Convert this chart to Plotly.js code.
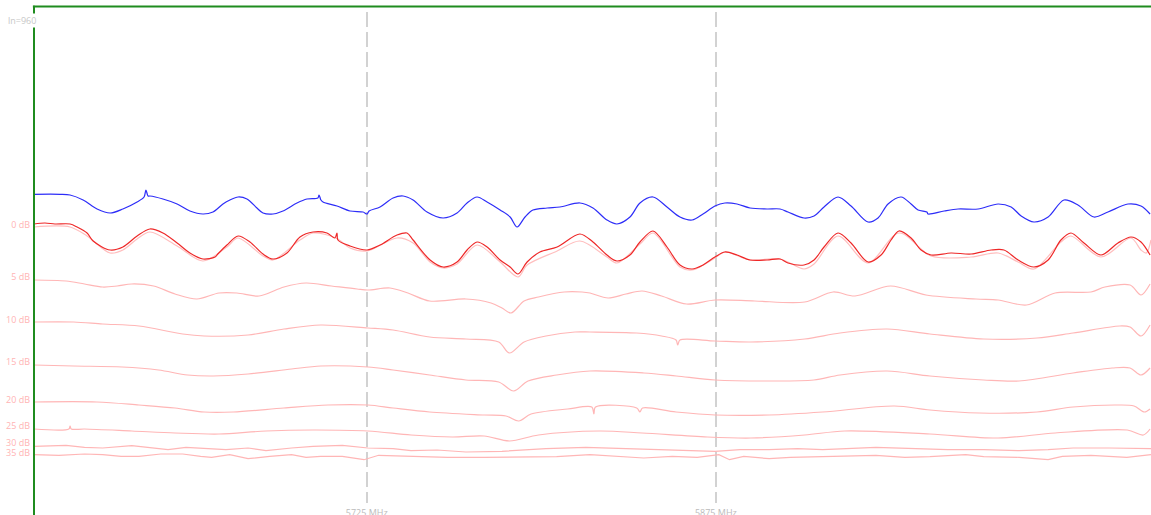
<!DOCTYPE html>
<html><head><meta charset="utf-8">
<script src="https://cdn.plot.ly/plotly-3.0.1.min.js"></script>
<style>html,body{margin:0;padding:0;background:#fff;overflow:hidden}#chart{width:1151px;height:515px}</style>
</head><body><div id="chart"></div>
<script>
// Frequency in MHz, level in display units (rows below the 0 dB reference start)
const freqBlue = [5582,5593.2,5597.5,5603.1,5609.1,5614.7,5620.2,5626.3,5629.3,5630.1,5631,5631.8,5637.4,5643.5,5649,5654.6,5658.9,5663.2,5666.2,5669.7,5673.5,5677.8,5680.4,5684.7,5689,5695,5699.3,5704,5704.5,5705.3,5706.2,5712.2,5717.8,5723.4,5725.1,5726,5730.7,5736.3,5740.6,5744.9,5750.9,5757.8,5763.8,5768.1,5772.4,5776.7,5782.3,5786.6,5789.6,5793,5796.4,5802.5,5808,5816.6,5822.2,5828.2,5832.5,5838.1,5842.4,5848,5854,5859.6,5864.8,5869.5,5874.6,5878.9,5884.1,5889.7,5897,5902.6,5906,5912.9,5917.2,5921.5,5927.5,5933.1,5940.4,5944.7,5949,5954.6,5958.9,5961.9,5965.7,5966.2,5973.1,5979.1,5987.7,5996.3,6001.9,6006.2,6011.7,6017.8,6024.6,6030.6,6037.5,6043.5,6052.1,6057.7,6061.6];
const levelBlue = [-29.7,-29.7,-29,-24,-15,-11,-15,-22,-27,-34,-28,-28,-25,-20,-13,-10,-12,-20,-24,-27,-25,-16,-11,-10,-13,-21,-25,-26,-29,-24,-22,-18,-13,-12,-10,-13,-17,-26,-28,-24,-12,-6,-11,-21,-27,-22,-14,-7,3,-7,-14,-16,-17,-21,-16,-4,0,-7,-21,-27,-17,-7,-4,-10,-18,-21,-20,-16,-15,-15,-12,-6,-8,-17,-27,-18,-2,-6,-20,-27,-20,-14,-12,-10,-13,-15,-15,-20,-17,-8,-2,-7,-24,-19,-7,-12,-20,-18,-10];

const freqRed = [5582,5586.7,5591,5597.5,5600.5,5604.8,5607.4,5614.7,5620.2,5626.3,5631.8,5637.4,5643.5,5649,5654.6,5659.8,5661,5664.9,5669.7,5674.8,5680.4,5684.7,5690.7,5696.3,5701.9,5707.9,5711.3,5712.2,5712.6,5717.8,5725.1,5730.7,5738,5742.3,5744.9,5752.2,5757.8,5763.8,5768.1,5772.4,5776.7,5782.3,5786.6,5790,5793.9,5799.4,5806.8,5816.6,5822.2,5828.2,5832.5,5838.1,5842.4,5848,5854,5859.6,5864.8,5869.5,5874.6,5878.9,5884.1,5889.7,5897,5902.6,5906,5912.9,5917.2,5921.5,5927.5,5933.1,5940.4,5946,5950.3,5953.7,5958.9,5963.2,5967.5,5976.1,5984.7,5993.3,5998.8,6004.9,6011.7,6017.8,6023.3,6027.6,6033.2,6040.5,6047.8,6053.4,6057.7,6061.6];
const levelRed = [0,-1,0,0,3,9,17,26,23,12,5,9,19,29,35,33,30,21,12,18,30,35,29,13,8,9,14,9,16,22,26,21,11,9,16,36,43,38,26,18,23,36,43,50,38,28,23,10,18,31,37,31,18,7,23,41,45,41,33,28,31,36,36,35,39,41,36,23,9,19,38,31,16,7,14,26,31,29,30,26,26,36,43,36,16,9,19,31,19,13,18,31];

const freqPink = [5582,5597.5,5604.8,5614.7,5620.2,5626.3,5631.8,5643.5,5654.6,5664.9,5669.7,5680.4,5684.7,5696.3,5701.9,5711.8,5717.8,5725.1,5738,5744.9,5752.2,5757.8,5763.8,5772.4,5782.3,5790,5793.9,5806.8,5816.6,5828.2,5832.5,5842.4,5848,5859.6,5864.8,5874.6,5878.9,5889.7,5902.6,5912.9,5917.2,5927.5,5940.4,5953.7,5967.5,5984.7,5996.3,6004.9,6011.7,6023.3,6027.6,6040.5,6053.4,6057.7,6060,6062];
const levelPink = [3,3,12,29,26,15,8,22,37,23,14,32,36,16,9,14,24,27,14,19,38,44,40,21,38,53,41,27,17,33,39,20,9,43,46,34,28,36,35,45,40,12,39,9,32,33,29,38,45,18,12,33,14,26,29,16];

const freq5 = [5582,5595.8,5603.7,5611.5,5617.7,5624,5633.4,5642.6,5652,5661.5,5669.2,5678.7,5689.4,5698.9,5709.8,5720.8,5725.5,5735,5742.7,5752,5767.6,5778.4,5783.1,5787,5792.6,5798.8,5809.8,5817.5,5820.9,5828.7,5836.4,5843.3,5851.7,5862.4,5874.7,5891.7,5913.2,5925.4,5934.8,5950.1,5965.3,5986.8,5996.3,6008.5,6020.8,6036.2,6042.2,6053,6057.7,6061.6];
const level5 = [56,57,60,63,62,60,62,70,75,69,69,72,63,59,62,65,66,64,69,77,75,79,84,89,77,73,68,68,69,74,70,67,72,80,76,77,78,68,72,62,71,75,76,81,69,68,63,61,71,60];

const freq10 = [5582,5599,5611.5,5627.1,5645.9,5655.1,5674,5689.4,5705.2,5725.5,5736.3,5752,5767.6,5781.7,5786.3,5792.6,5802,5814.5,5820.9,5840.9,5851.7,5857.9,5858.6,5859.6,5874.7,5890.1,5913.2,5928.4,5948.6,5967,5990.1,6013,6028.5,6048.5,6053,6057.7,6061.6];
const level10 = [98,98,100,102,110,112,111,105,101,104,106,113,115,118,129,118,112,108,108,109,112,116,121,116,117,118,115,109,105,110,115,114,109,102,103,112,101];

const freq15 = [5582,5599,5619.9,5635.5,5648,5659,5674,5692.7,5705.2,5725.5,5736.3,5752,5767.6,5781.7,5788.1,5794.3,5806.6,5820.9,5844,5858,5874.7,5897.9,5917.1,5928.4,5948.6,5967,5990.1,6005.3,6028.5,6045.3,6053,6057.7,6061.6];
const level15 = [141,142,143,146,151,152,150,145,142,143,146,151,156,158,167,157,151,147,149,152,156,157,156,151,147,152,156,157,149,144,144,151,144];

const freq20 = [5582,5609,5627.1,5642.6,5655.1,5667.6,5689.4,5708.3,5725.5,5736.3,5752,5775.4,5784.8,5790.3,5795.6,5811.3,5821.7,5822.6,5823.3,5841,5842.4,5843.5,5857.9,5874.7,5897.9,5920.9,5951.7,5967,5988.2,6013,6028.5,6047.6,6054.7,6059.2,6061.6];
const level20 = [178,178,181,184,188,188,184,181,181,184,188,191,192,197,190,185,183,190,183,184,188,184,188,191,191,188,182,186,189,188,183,181,182,188,185];

const freq25 = [5582,5597,5597.5,5598,5603.7,5624,5642.6,5661.5,5681.7,5701.9,5725.5,5744,5761.8,5775.4,5786.3,5798.8,5824.9,5843.3,5871.3,5890.1,5913.2,5930.4,5967,5996.3,6020.8,6051.8,6058.7,6061.6];
const level25 = [205,205,202,205,205,207,209,210,207,206,207,211,213,212,217,211,207,209,213,214,211,207,210,214,209,206,211,205];

const freq30 = [5582,5595.8,5603.7,5611.5,5624,5631.8,5639.6,5647.3,5653.6,5664.5,5674,5681.7,5692.7,5701.9,5714.5,5725.5,5736.3,5744,5755.2,5767.6,5783.1,5802,5819.1,5839.4,5851.7,5866.9,5874.7,5885.4,5897.9,5910.1,5920.9,5943.8,5959.3,5974.7,5990.1,6005.3,6017.8,6028.5,6044,6062];
const level30 = [222.3,221.3,223.3,224,221.7,224,225.7,223.3,224,225.7,224,226.7,224,222.3,221.3,224,224.7,226.7,226,228,227.3,224.7,223.3,224.7,225.7,227.3,227.3,225.7,225.7,224.7,225.7,223.3,224.7,225.7,225.7,226.7,225.7,224,224,224.7];

const freq35 = [5582,5592.7,5603.7,5611.5,5619.4,5627.1,5636.5,5645.9,5653.6,5658.3,5666.1,5674,5683.3,5692.7,5698.9,5705.2,5714.5,5723.8,5730.1,5744,5759.8,5775.4,5791,5806.6,5820.9,5833.2,5844,5856.3,5867,5876.3,5880.9,5887,5897.9,5907,5920.9,5934.7,5943.8,5956.2,5967,5982.4,5990.1,6005.3,6017.8,6023.9,6036.2,6043.9,6051.6,6062];
const level35 = [230.7,231.3,230,230.7,232.3,232.3,230,230,232.3,233.3,230.7,234.7,232.3,230.7,233.3,232.3,232.3,235.7,231.3,232.3,233.3,233.3,233.3,232.7,230.7,232.3,234,232.3,233.3,230.7,235.7,232.3,234.7,233.3,232.3,231.3,231.3,233.3,232.7,230.7,232.7,233.3,235.7,232.3,231.3,232.3,233.3,230.7];

const dbTickLevels = [1,53,96,138,176,202,218.5,228.5];
const dbTickText = ['0 dB','5 dB','10 dB','15 dB','20 dB','25 dB','30 dB','35 dB'];
const freqTickVals = [5725,5875];
const freqTickText = ['5725 MHz','5875 MHz'];
const sweepLabel = 'ln=960';

const PINK = 'rgb(255,182,182)';
function tr(x, y, color, w, shape) {
  return {x: x, y: y, type: 'scatter', mode: 'lines', hoverinfo: 'skip',
          line: {color: color, width: w, shape: shape, smoothing: 0.9}, showlegend: false};
}
const data = [
  tr(freq35, level35, PINK, 1.2, 'linear'),
  tr(freq30, level30, PINK, 1.2, 'linear'),
  tr(freq25, level25, PINK, 1.2, 'spline'),
  tr(freq20, level20, PINK, 1.2, 'spline'),
  tr(freq15, level15, PINK, 1.2, 'spline'),
  tr(freq10, level10, PINK, 1.2, 'spline'),
  tr(freq5, level5, PINK, 1.2, 'spline'),
  tr(freqPink, levelPink, 'rgb(255,190,190)', 1.2, 'spline'),
  tr(freqRed, levelRed, 'rgb(238,40,40)', 1.2, 'spline'),
  tr(freqBlue, levelBlue, 'rgb(45,45,248)', 1.2, 'spline')
];
const GREEN = '#1f8c1f';
const layout = {
  width: 1151, height: 515,
  margin: {l: 34, r: 0, t: 12, b: 12, pad: 0},
  paper_bgcolor: '#fff', plot_bgcolor: '#fff',
  font: {family: 'Open Sans, sans-serif'},
  xaxis: {range: [5582, 6062], tickmode: 'array', tickvals: freqTickVals, ticktext: freqTickText,
          showgrid: true, gridcolor: '#d2d2d2', gridwidth: 1.5, griddash: '15px,5px',
          zeroline: false, showline: false, ticks: '', ticklabelstandoff: 3,
          tickfont: {size: 9, color: '#bbbbbb'}},
  yaxis: {range: [279, -212], tickmode: 'array', tickvals: dbTickLevels, ticktext: dbTickText,
          showgrid: false, zeroline: false, showline: false, ticks: '', ticklabelstandoff: 3,
          tickfont: {size: 9, color: 'rgb(255,180,180)'}},
  shapes: [
    {type: 'line', xref: 'paper', yref: 'paper', x0: -0.001, x1: 1, y0: 1.0112, y1: 1.0112,
     line: {color: GREEN, width: 2}},
    {type: 'line', xref: 'paper', yref: 'paper', x0: 0, x1: 0, y0: -0.03, y1: 1.0125,
     line: {color: GREEN, width: 2}}
  ],
  annotations: [
    {text: sweepLabel, xref: 'paper', yref: 'paper', x: -0.0242, y: 0.9817,
     xanchor: 'left', yanchor: 'middle', showarrow: false, bgcolor: '#ffffff', borderpad: 0,
     font: {size: 9, color: '#c8c8c8'}}
  ]
};
Plotly.newPlot('chart', data, layout, {displayModeBar: false, staticPlot: true});
</script>
</body></html>
